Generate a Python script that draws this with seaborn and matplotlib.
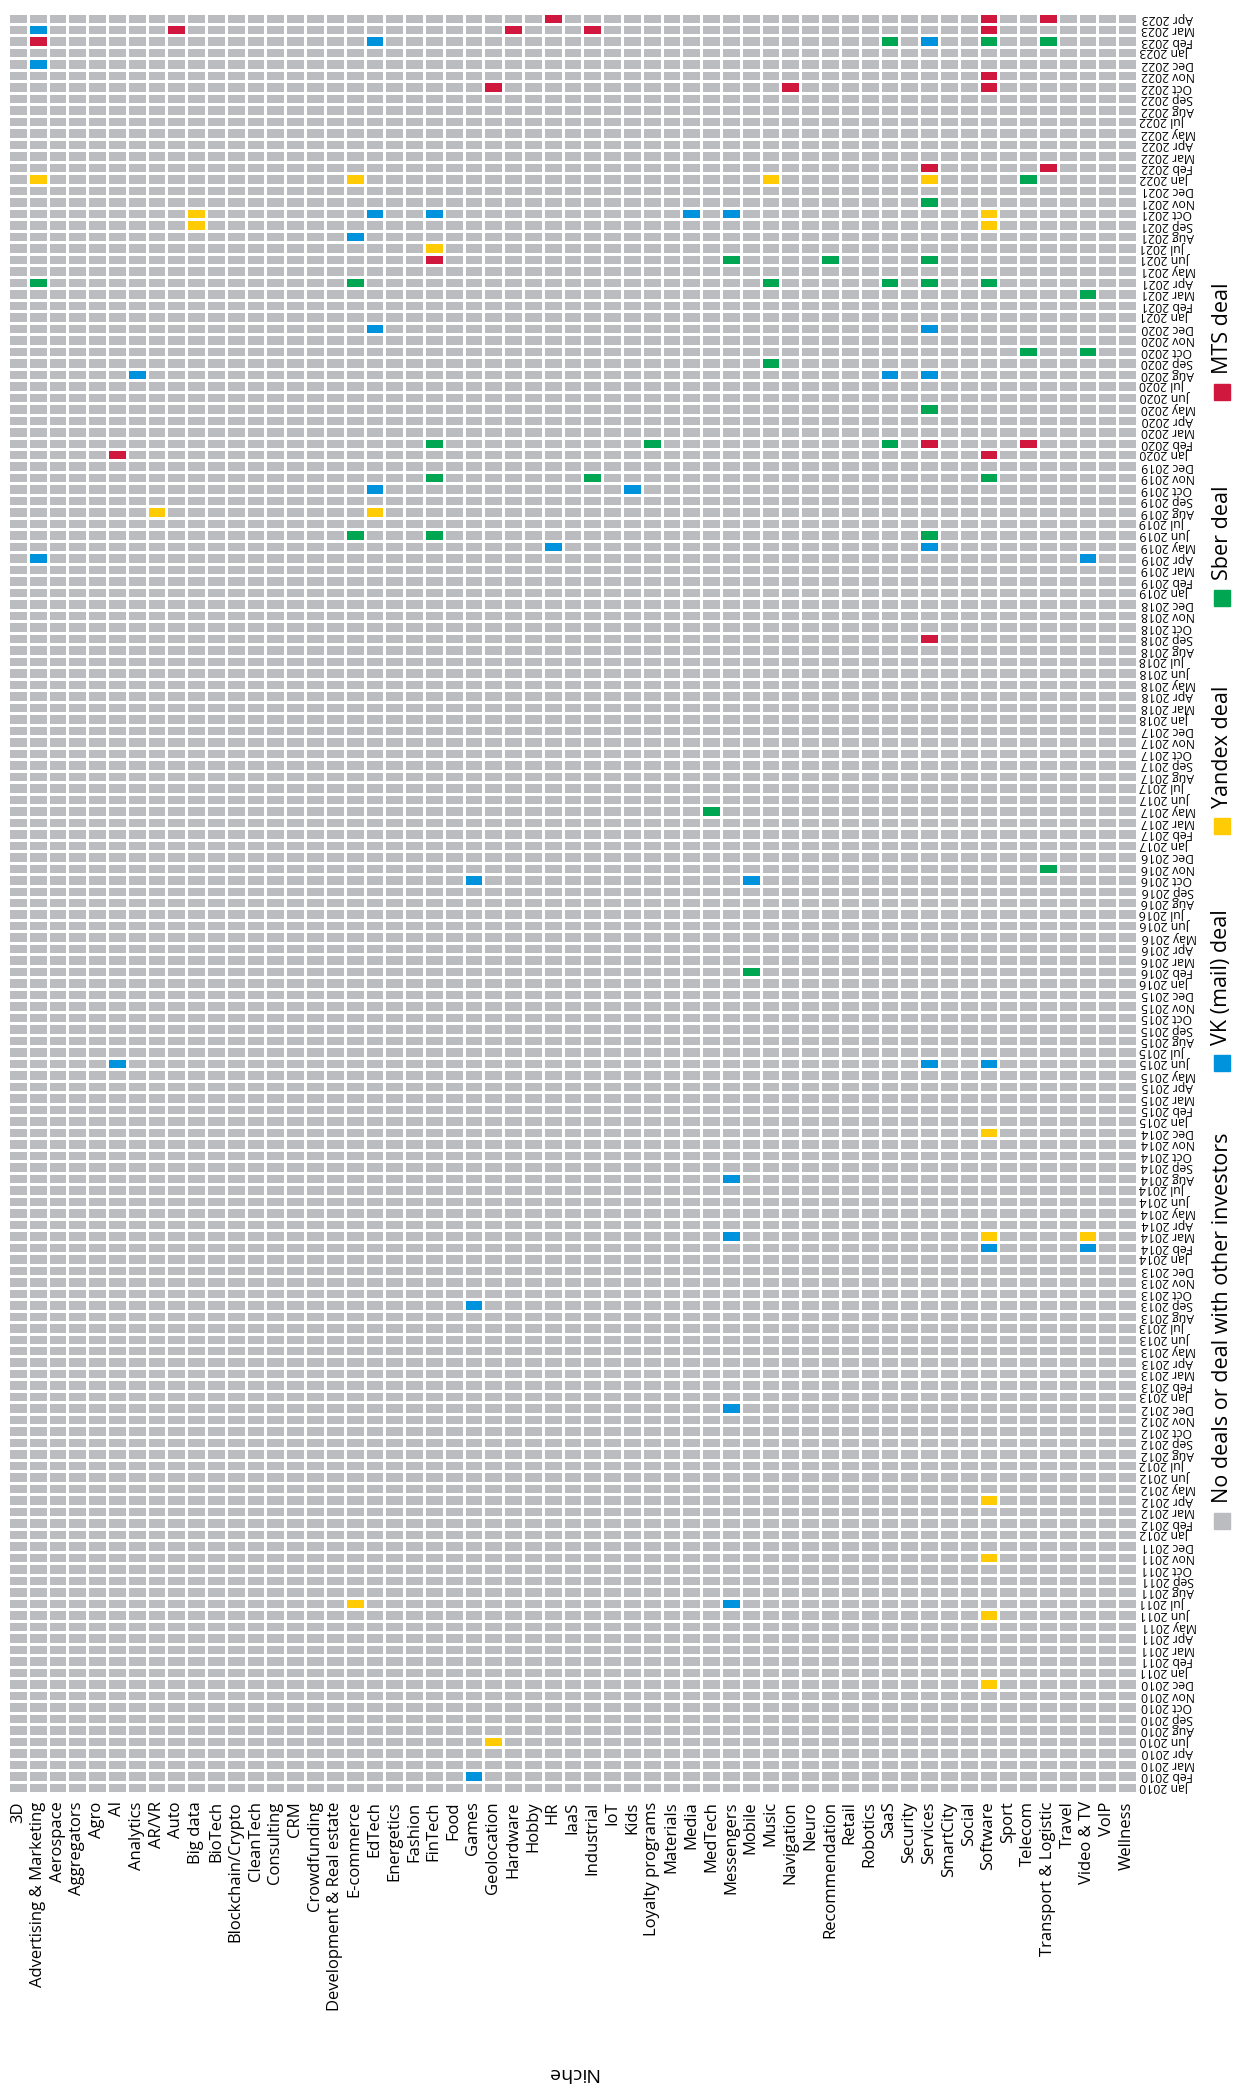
import pandas as pd
import seaborn as sns
import matplotlib.pyplot as plt
from matplotlib.colors import ListedColormap
from matplotlib.patches import Rectangle

niches = [
    "3D", "Advertising & Marketing", "Aerospace", "Aggregators", "Agro", "AI",
    "Analytics", "AR/VR", "Auto", "Big data", "BioTech", "Blockchain/Crypto",
    "CleanTech", "Consulting", "CRM", "Crowdfunding", "Development & Real estate",
    "E-commerce", "EdTech", "Energetics", "Fashion", "FinTech", "Food", "Games",
    "Geolocation", "Hardware", "Hobby", "HR", "IaaS", "Industrial", "IoT", "Kids",
    "Loyalty programs", "Materials", "Media", "MedTech", "Messengers", "Mobile",
    "Music", "Navigation", "Neuro", "Recommendation", "Retail", "Robotics", "SaaS",
    "Security", "Services", "SmartCity", "Social", "Software", "Sport", "Telecom",
    "Transport & Logistic", "Travel", "Video & TV", "VoIP", "Wellness",
]

# months that have no row in the table
missing_months = ["Jun 2022", "Feb 2018", "Apr 2017", "Jul 2010", "May 2010"]

legend_labels = ["No deals or deal with other investors", "VK (mail) deal",
                 "Yandex deal", "Sber deal", "MTS deal"]
palette = ["#bbbcc0", "#0093dd", "#ffcb05", "#00a651", "#d0173d"]

vk_deals = [
    ("Mar 2023", "Advertising & Marketing"), ("Feb 2023", "EdTech"), ("Feb 2023", "Services"),
    ("Dec 2022", "Advertising & Marketing"), ("Oct 2021", "EdTech"), ("Oct 2021", "FinTech"),
    ("Oct 2021", "Media"), ("Oct 2021", "Messengers"), ("Aug 2021", "E-commerce"),
    ("Dec 2020", "EdTech"), ("Dec 2020", "Services"), ("Aug 2020", "Analytics"),
    ("Aug 2020", "SaaS"), ("Aug 2020", "Services"), ("Oct 2019", "EdTech"), ("Oct 2019", "Kids"),
    ("May 2019", "HR"), ("May 2019", "Services"), ("Apr 2019", "Advertising & Marketing"),
    ("Apr 2019", "Video & TV"), ("Oct 2016", "Games"), ("Oct 2016", "Mobile"),
    ("Jun 2015", "AI"), ("Jun 2015", "Services"), ("Jun 2015", "Software"),
    ("Aug 2014", "Messengers"), ("Mar 2014", "Messengers"), ("Feb 2014", "Software"),
    ("Feb 2014", "Video & TV"), ("Sep 2013", "Games"), ("Dec 2012", "Messengers"),
    ("Jul 2011", "Messengers"), ("Feb 2010", "Games"),
]
yandex_deals = [
    ("Jan 2022", "Advertising & Marketing"), ("Jan 2022", "E-commerce"), ("Jan 2022", "Music"),
    ("Jan 2022", "Services"), ("Oct 2021", "Big data"), ("Oct 2021", "Software"),
    ("Sep 2021", "Big data"), ("Sep 2021", "Software"), ("Jul 2021", "FinTech"),
    ("Aug 2019", "AR/VR"), ("Aug 2019", "EdTech"), ("Dec 2014", "Software"),
    ("Mar 2014", "Software"), ("Mar 2014", "Video & TV"), ("Apr 2012", "Software"),
    ("Nov 2011", "Software"), ("Jul 2011", "E-commerce"), ("Jun 2011", "Software"),
    ("Dec 2010", "Software"), ("Jun 2010", "Geolocation"),
]
sber_deals = [
    ("Feb 2023", "SaaS"), ("Feb 2023", "Software"), ("Feb 2023", "Transport & Logistic"),
    ("Jan 2022", "Telecom"), ("Nov 2021", "Services"), ("Jun 2021", "Messengers"),
    ("Jun 2021", "Recommendation"), ("Jun 2021", "Services"),
    ("Apr 2021", "Advertising & Marketing"), ("Apr 2021", "E-commerce"), ("Apr 2021", "Music"),
    ("Apr 2021", "SaaS"), ("Apr 2021", "Services"), ("Apr 2021", "Software"),
    ("Mar 2021", "Video & TV"), ("Oct 2020", "Telecom"), ("Oct 2020", "Video & TV"),
    ("Sep 2020", "Music"), ("May 2020", "Services"), ("Feb 2020", "FinTech"),
    ("Feb 2020", "Loyalty programs"), ("Feb 2020", "SaaS"), ("Nov 2019", "FinTech"),
    ("Nov 2019", "Industrial"), ("Nov 2019", "Software"), ("Jun 2019", "E-commerce"),
    ("Jun 2019", "FinTech"), ("Jun 2019", "Services"), ("May 2017", "MedTech"),
    ("Nov 2016", "Transport & Logistic"), ("Feb 2016", "Mobile"),
]
mts_deals = [
    ("Apr 2023", "HR"), ("Apr 2023", "Software"), ("Apr 2023", "Transport & Logistic"),
    ("Mar 2023", "Auto"), ("Mar 2023", "Hardware"), ("Mar 2023", "Industrial"),
    ("Mar 2023", "Software"), ("Feb 2023", "Advertising & Marketing"), ("Nov 2022", "Software"),
    ("Oct 2022", "Geolocation"), ("Oct 2022", "Navigation"), ("Oct 2022", "Software"),
    ("Feb 2022", "Services"), ("Feb 2022", "Transport & Logistic"), ("Jun 2021", "FinTech"),
    ("Feb 2020", "Services"), ("Feb 2020", "Telecom"), ("Jan 2020", "AI"),
    ("Jan 2020", "Software"), ("Sep 2018", "Services"),
]

months = [m.strftime("%b %Y") for m in pd.date_range("2010-01-01", "2023-04-01", freq="MS")]
months = [m for m in months[::-1] if m not in missing_months]

df = pd.DataFrame(0, index=months, columns=niches)
for code, deals in enumerate([vk_deals, yandex_deals, sber_deals, mts_deals], start=1):
    for month, niche in deals:
        df.loc[month, niche] = code

plt.rcParams["font.family"] = ["Open Sans", "DejaVu Sans"]

W, H = 1233, 2089
fig = plt.figure(figsize=(W / 100, H / 100), dpi=100)
ax = fig.add_axes([8 / W, 1 - 1793 / H, 1129 / W, 1780.5 / H])

sns.heatmap(df, ax=ax, cmap=ListedColormap(palette), vmin=-0.5, vmax=4.5, cbar=False,
            linewidths=1, linecolor="white", xticklabels=True, yticklabels=True)

ax.yaxis.tick_right()
ax.tick_params(axis="y", length=0, pad=3, labelsize=8.8, labelrotation=180)
ax.tick_params(axis="x", length=0, pad=6, labelsize=12, labelrotation=90)
for t in ax.get_yticklabels():
    t.set_va("center")
ax.set_ylabel("")
ax.set_xlabel("Niche", fontsize=14, rotation=180, va="center")
ax.xaxis.set_label_coords(0.5, -(2073 - 1793) / 1780.5)

# legend drawn by hand: rotated entries down the right edge
square_centers = [1521, 1063, 826, 598, 392]
for lab, col, yc in zip(legend_labels, palette, square_centers):
    fig.add_artist(Rectangle((1214 / W, 1 - (yc + 8) / H), 16 / W, 16 / H,
                             transform=fig.transFigure, color=col))
    fig.text(1222 / W, 1 - (yc - 18) / H, lab, rotation=90, ha="center", va="bottom",
             fontsize=15.5)

fig.savefig("out.png", dpi=100)
